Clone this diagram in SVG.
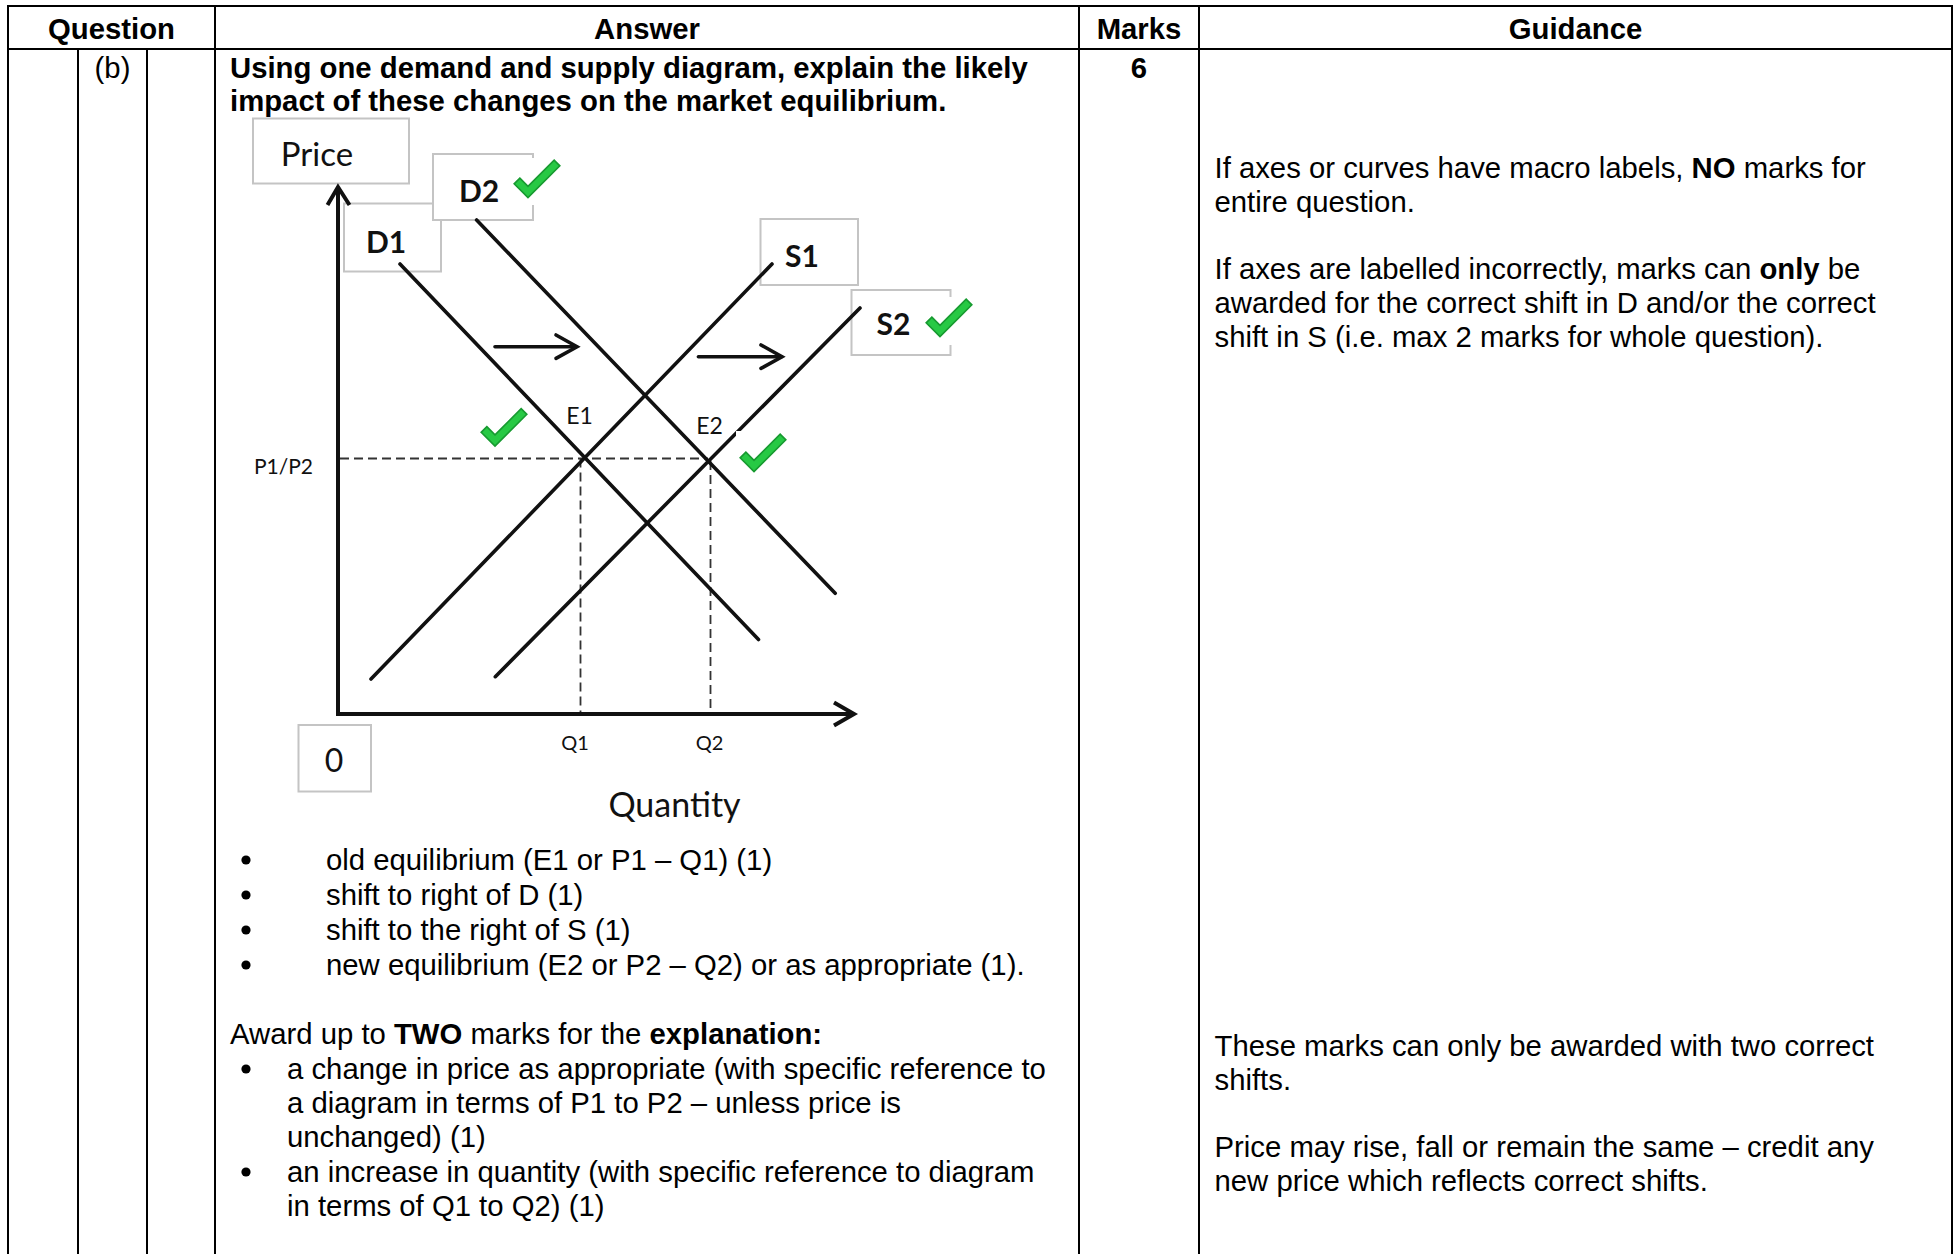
<svg xmlns="http://www.w3.org/2000/svg" width="1959" height="1254" viewBox="0 0 1959 1254">
<style>
.t{font-family:"Liberation Sans",Arial,sans-serif;font-size:29.3px;fill:#000}
.b{font-weight:bold}
.mid{text-anchor:middle}
.c{font-family:Lato,"Open Sans",sans-serif;fill:#111;text-anchor:middle}
.grid{stroke:#000;stroke-width:2;fill:none}
.curve{stroke:#111;stroke-width:3.6;fill:none;stroke-linecap:round}
.axis{stroke:#111;stroke-width:4;fill:none}
.dash{stroke:#333;stroke-width:1.8;stroke-dasharray:9 5;fill:none}
.lbl{fill:#fff;stroke:#c4c4c4;stroke-width:2}
.tick{fill:#27c944;stroke:#179a30;stroke-width:1.6;stroke-linejoin:miter}
</style>
<defs>
<polygon id="tk" points="2.83,-2.83 11,5.34 37.17,-20.83 42.83,-15.17 11,16.66 -2.83,2.83"/>
</defs>
<rect width="1959" height="1254" fill="#fff"/>
<g id="table">
<line class="grid" x1="8" y1="6" x2="1952" y2="6"/>
<line class="grid" x1="8" y1="49" x2="1952" y2="49"/>
<line class="grid" x1="8" y1="5" x2="8" y2="1254"/>
<line class="grid" x1="78" y1="49" x2="78" y2="1254"/>
<line class="grid" x1="147" y1="49" x2="147" y2="1254"/>
<line class="grid" x1="215" y1="5" x2="215" y2="1254"/>
<line class="grid" x1="1079" y1="5" x2="1079" y2="1254"/>
<line class="grid" x1="1199" y1="5" x2="1199" y2="1254"/>
<line class="grid" x1="1952" y1="5" x2="1952" y2="1254"/>
<text class="t b mid" x="111.5" y="38.5">Question</text>
<text class="t b mid" x="647" y="38.5">Answer</text>
<text class="t b mid" x="1139" y="38.5">Marks</text>
<text class="t b mid" x="1575.5" y="38.5">Guidance</text>
<text class="t mid" x="112.5" y="78">(b)</text>
<text class="t b mid" x="1139" y="78">6</text>
</g>
<g id="answer">
<text class="t b" x="230" y="78">Using one demand and supply diagram, explain the likely</text>
<text class="t b" x="230" y="111">impact of these changes on the market equilibrium.</text>
<circle cx="246" cy="860" r="4.6"/>
<circle cx="246" cy="895" r="4.6"/>
<circle cx="246" cy="930" r="4.6"/>
<circle cx="246" cy="965" r="4.6"/>
<text class="t" x="326" y="870">old equilibrium (E1 or P1 – Q1) (1)</text>
<text class="t" x="326" y="905">shift to right of D (1)</text>
<text class="t" x="326" y="940">shift to the right of S (1)</text>
<text class="t" x="326" y="975">new equilibrium (E2 or P2 – Q2) or as appropriate (1).</text>
<text class="t" x="230" y="1043.5">Award up to <tspan class="b">TWO</tspan> marks for the <tspan class="b">explanation:</tspan></text>
<circle cx="246" cy="1069" r="4.6"/>
<circle cx="246" cy="1172" r="4.6"/>
<text class="t" x="287" y="1079">a change in price as appropriate (with specific reference to</text>
<text class="t" x="287" y="1113">a diagram in terms of P1 to P2 – unless price is</text>
<text class="t" x="287" y="1147">unchanged) (1)</text>
<text class="t" x="287" y="1182">an increase in quantity (with specific reference to diagram</text>
<text class="t" x="287" y="1216">in terms of Q1 to Q2) (1)</text>
</g>
<g id="guidance">
<text class="t" x="1214.5" y="178">If axes or curves have macro labels, <tspan class="b">NO</tspan> marks for</text>
<text class="t" x="1214.5" y="212">entire question.</text>
<text class="t" x="1214.5" y="279">If axes are labelled incorrectly, marks can <tspan class="b">only</tspan> be</text>
<text class="t" x="1214.5" y="313">awarded for the correct shift in D and/or the correct</text>
<text class="t" x="1214.5" y="347">shift in S (i.e. max 2 marks for whole question).</text>
<text class="t" x="1214.5" y="1055.5">These marks can only be awarded with two correct</text>
<text class="t" x="1214.5" y="1089.5">shifts.</text>
<text class="t" x="1214.5" y="1156.5">Price may rise, fall or remain the same – credit any</text>
<text class="t" x="1214.5" y="1190.5">new price which reflects correct shifts.</text>
</g>
<g id="chart">
<g id="price-label">
<rect class="lbl" x="253" y="118.5" width="156" height="65"/>
<text class="c" x="317" y="166" font-size="33">Price</text>
</g>
<g id="d1-label">
<rect class="lbl" x="344" y="203.5" width="97" height="68"/>
<text class="c" x="386" y="253" font-size="30" font-weight="bold">D1</text>
</g>
<g id="d2-label">
<rect class="lbl" x="433" y="154" width="100" height="66"/>
<text class="c" x="479" y="201.5" font-size="30" font-weight="bold">D2</text>
</g>
<g id="s1-label">
<rect class="lbl" x="760.5" y="219" width="97.5" height="66"/>
<text class="c" x="802" y="266.5" font-size="30" font-weight="bold">S1</text>
</g>
<g id="s2-label">
<rect class="lbl" x="851.5" y="290" width="99" height="65"/>
<text class="c" x="893.5" y="335" font-size="30" font-weight="bold">S2</text>
</g>
<g id="origin-label">
<rect class="lbl" x="298.5" y="725" width="72.5" height="66.5"/>
<text class="c" x="334" y="771.5" font-size="32">0</text>
</g>
<text class="c" x="283.5" y="474" font-size="21">P1/P2</text>
<text class="c" x="575" y="750" font-size="20">Q1</text>
<text class="c" x="709.5" y="750" font-size="20">Q2</text>
<text class="c" x="674.5" y="816.5" font-size="34">Quantity</text>
<text class="c" x="579.5" y="423.5" font-size="23">E1</text>
<text class="c" x="709.5" y="433.5" font-size="23">E2</text>
</g>
<g id="connectors">
<line class="dash" x1="340" y1="458.5" x2="708" y2="458.5"/>
<line class="dash" x1="580.5" y1="458.5" x2="580.5" y2="713"/>
<line class="dash" x1="710.5" y1="461" x2="710.5" y2="713"/>
<line class="axis" x1="338" y1="716" x2="338" y2="187"/>
<polyline class="axis" points="327.5,205 338,187 349.5,205"/>
<line class="axis" x1="336" y1="714" x2="854" y2="714"/>
<polyline class="axis" points="834,702.5 854,714 834,725.5"/>
<line class="curve" x1="400" y1="264" x2="758.5" y2="639.5"/>
<line class="curve" x1="476.6" y1="220" x2="835.2" y2="593.3"/>
<line class="curve" x1="371" y1="679" x2="772" y2="264"/>
<line class="curve" x1="495.3" y1="676.7" x2="860" y2="308"/>
<line class="curve" x1="495" y1="346.7" x2="576" y2="346.7"/>
<polyline class="curve" points="556,335 577,346.7 556,358.4"/>
<line class="curve" x1="698.4" y1="356.7" x2="781.5" y2="356.7"/>
<polyline class="curve" points="761,345 782,356.7 761,368.4"/>
</g>
<g id="ticks">
<rect x="511" y="158" width="55" height="47" fill="#fff"/>
<use href="#tk" class="tick" x="517" y="181"/>
<rect x="921" y="297" width="55" height="48" fill="#fff"/>
<use href="#tk" class="tick" x="929" y="320"/>
<use href="#tk" class="tick" x="484" y="429.5"/>
<rect x="736" y="431" width="54" height="46" fill="#fff"/>
<use href="#tk" class="tick" x="743" y="455"/>
</g>
</svg>
